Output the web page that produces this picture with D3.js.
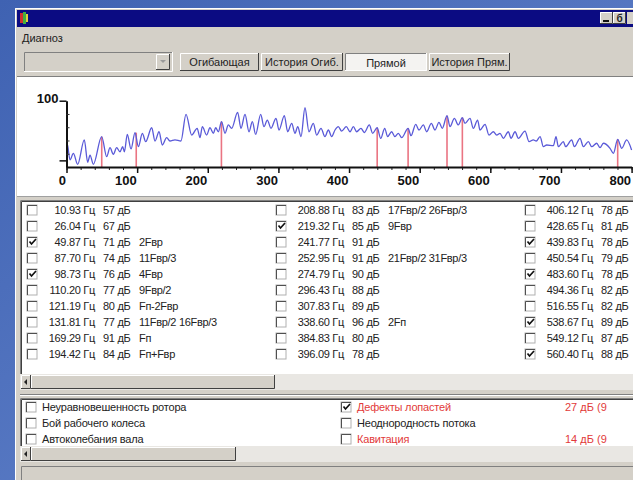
<!DOCTYPE html>
<html>
<head>
<meta charset="utf-8">
<script src="https://cdn.jsdelivr.net/npm/d3@7"></script>
<style>
  body { margin: 0; background: #4d6fbb; }
  svg { display: block; font-family: "Liberation Sans", Arial, sans-serif; }
</style>
</head>
<body>
<div id="sandbox"></div>
<script>
// Spectrum: frequency (Hz) / level (dB)
var specHz = [0, 1.7, 5, 9.7, 15.8, 25.2, 30, 33.3, 38, 49.8, 56.9, 61.6, 66.3, 71, 75.7, 79.5, 81.9, 86.1, 91.3, 97,
  101.7, 107.4, 112.1, 120.6, 125.3, 131, 135.7, 141.8, 146.5, 153.6, 162, 169.2, 177.2, 185, 189,
  192.3, 198.4, 203.1, 207.9, 211.2, 215, 219.5, 224.4, 229.1, 233.8, 242.3, 247, 252.7, 258.4, 263.1, 267.8,
  274.9, 279.6, 284.3, 289.5, 296.6, 300.8, 308.4, 313.1, 318.8, 323.5, 327.3, 332, 337.6, 343.3, 349.4, 354.1,
  360.3, 365.9, 370.7, 375.4,
  380.1, 384.8, 389.5, 396.1, 401.4, 406.1, 410.8, 416.9, 421.6, 428.7, 433.4, 439.8, 444.8, 450.5, 454.6, 460.3,
  465, 469.8, 474.5, 483.6, 487.7, 494.4, 499, 505.2, 509.9, 516.5, 521.7, 527.3, 532, 538.7, 542.9, 549.1, 554.7,
  560.4, 564.1, 571.2, 575.9, 582,
  585.4, 592.5, 598.1, 604.3, 609, 613.7, 618.4, 625.5, 629.3, 635, 639.7, 649.1, 654.8, 660.9, 665, 670.4, 675.1,
  679.8, 689.3, 693, 696.3, 703.4, 706.7, 715.2, 719, 727, 731.7, 738.8, 743.5, 750.6, 755.3, 760, 769.5, 774.2,
  780.3, 786, 793, 800];
var specDb = [68.6, 66, 55.3, 60.3, 52, 70.4, 53.5, 59, 52, 72.9, 57.8, 64.6, 59.6, 64.6, 61.5, 65.3, 61.5, 74.6, 63.6, 75.9,
  65.3, 75.4, 69.1, 79.6, 69.6, 76.6, 66.6, 72.1, 69.6, 70.4, 69.6, 89.7, 74.1, 79.2, 72.1,
  80.4, 74.1, 79.6, 75.4, 79.6, 76.6, 84.2, 75.4, 81.7, 79.2, 91.2, 79.2, 89.7, 76.6, 84.2, 74.6,
  89.7, 80.4, 85.4, 79.2, 86.7, 77.9, 88.7, 76.6, 82.9, 75.4, 80.4, 72.9, 94.7, 76.6, 82.9, 74.1,
  79.2, 72.9, 77.9, 72.9,
  77.9, 80.4, 77.1, 80.4, 76.6, 80.4, 76.6, 79.2, 76, 81.7, 75.4, 79.6, 71.6, 79.2, 72.9, 76.6,
  72.9, 75.4, 72.1, 79.2, 73.6, 82.2, 77.9, 81.7, 76.6, 82.9, 77.9, 83.7, 79.2, 88.7, 80.4, 86.7, 81.7,
  87.2, 82.9, 86.7, 79.2, 85.4,
  77.9, 82.2, 74.1, 76.6, 74.1, 75.4, 71.6, 76.6, 71.6, 76.6, 71.6, 77.1, 69.1, 70.4, 69.6, 72.9, 65.3,
  66.6, 66.1, 72.9, 65.3, 69.1, 65.3, 70.4, 65.3, 71.6, 65.3, 69.1, 65.3, 67.9, 64.6, 67.9, 64.1, 60.3,
  70.9, 64.1, 70.4, 62.8];

// Checked peaks shown as red markers
var markHz = [49.87, 98.73, 219.32, 439.83, 483.60, 538.67, 560.40, 780.3];
var markDb = [72.9, 75.9, 84.2, 79.6, 79.2, 88.7, 87.2, 70.9];

var xTicks = [0, 100, 200, 300, 400, 500, 600, 700, 800];
var yMinor = [60, 70, 80, 90];

// Peak table
var peakHz = [10.93, 26.04, 49.87, 87.70, 98.73, 110.20, 121.19, 131.81, 169.29, 194.42,
  208.88, 219.32, 241.77, 252.95, 274.79, 296.43, 307.83, 338.60, 384.83, 396.09,
  406.12, 428.65, 439.83, 450.54, 483.60, 494.36, 516.55, 538.67, 549.12, 560.40];
var peakDb = [57, 67, 71, 74, 76, 77, 80, 77, 91, 84,
  83, 85, 91, 91, 90, 88, 89, 96, 80, 78,
  78, 81, 78, 79, 78, 82, 82, 89, 87, 88];
var peakNote = ["", "", "2Fвр", "11Fвр/3", "4Fвр", "9Fвр/2", "Fп-2Fвр", "11Fвр/2 16Fвр/3", "Fп", "Fп+Fвр",
  "17Fвр/2 26Fвр/3", "9Fвр", "", "21Fвр/2 31Fвр/3", "", "", "", "2Fп", "", "",
  "", "", "", "", "", "", "", "", "", ""];
var peakOn = [0, 0, 1, 0, 1, 0, 0, 0, 0, 0,
  0, 1, 0, 0, 0, 0, 0, 0, 0, 0,
  0, 0, 1, 0, 1, 0, 0, 1, 0, 1];

// Diagnosis panel
var diagName = ["Неуравновешенность ротора", "Бой рабочего колеса", "Автоколебания вала",
  "Дефекты лопастей", "Неоднородность потока", "Кавитация"];
var diagOn = [0, 0, 0, 1, 0, 0];
var diagValue = ["", "", "", "27 дБ (9", "", "14 дБ (9"];

var tabs = ["Огибающая", "История Огиб.", "Прямой", "История Прям."];
var tabX = [180, 261, 345, 429];
var tabW = [79, 82, 82, 81];

var W = 633, H = 480, GRAY = '#d4d0c8';

var svg = d3.select('#sandbox').append('svg').attr('width', W).attr('height', H);

// desktop background
var grad = svg.append('defs').append('linearGradient').attr('id', 'desk')
  .attr('x1', 0).attr('y1', 0).attr('x2', 1).attr('y2', 1);
grad.append('stop').attr('offset', '0%').attr('stop-color', '#3f62b2');
grad.append('stop').attr('offset', '100%').attr('stop-color', '#6a8ad0');
svg.append('rect').attr('width', W).attr('height', H).attr('fill', 'url(#desk)');

// 3D border helper
function bevel(g, x, y, w, h, sunk) {
  var lt = sunk ? '#808080' : '#ffffff', rb = sunk ? '#ffffff' : '#404040';
  g.append('path').attr('d', 'M' + (x + 0.5) + ',' + (y + h) + 'V' + (y + 0.5) + 'H' + (x + w))
    .attr('stroke', lt).attr('fill', 'none');
  g.append('path').attr('d', 'M' + (x + w - 0.5) + ',' + y + 'V' + (y + h - 0.5) + 'H' + x)
    .attr('stroke', rb).attr('fill', 'none');
}

function checkbox(g, x, y, on) {
  g.append('rect').attr('x', x).attr('y', y).attr('width', 10).attr('height', 10)
    .attr('fill', '#fff').attr('stroke', '#b0b0b0');
  g.append('path').attr('d', 'M' + (x + 0.5) + ',' + (y + 10) + 'V' + (y + 0.5) + 'H' + (x + 10))
    .attr('stroke', '#505050').attr('fill', 'none');
  if (on) {
    g.append('path').attr('d', 'M' + (x + 2.5) + ',' + (y + 4.5) + 'l2,2.5l4.5,-5')
      .attr('stroke', '#111').attr('stroke-width', 1.7).attr('fill', 'none');
  }
}

function text(g, x, y, s, opt) {
  opt = opt || {};
  return g.append('text').attr('x', x).attr('y', y).text(s)
    .attr('font-size', opt.size || 11)
    .attr('fill', opt.fill || '#222')
    .attr('text-anchor', opt.anchor || 'start')
    .attr('font-weight', opt.bold ? 'bold' : 'normal');
}

function scrollbar(g, y, thumbEnd) {
  g.append('rect').attr('x', 20).attr('y', y).attr('width', W - 20).attr('height', 16).attr('fill', '#e9e7e3');
  g.append('rect').attr('x', 21).attr('y', y + 1).attr('width', 10).attr('height', 14).attr('fill', GRAY);
  bevel(g, 21, y + 1, 10, 14, false);
  g.append('path').attr('d', 'M24,' + (y + 8) + 'l3,-3v6z').attr('fill', '#222');
  g.append('rect').attr('x', 31).attr('y', y + 1).attr('width', thumbEnd - 31).attr('height', 14).attr('fill', GRAY);
  bevel(g, 31, y + 1, thumbEnd - 31, 14, false);
}

// window body
var win = svg.append('g');
win.append('rect').attr('x', 15).attr('y', 8).attr('width', W - 15).attr('height', H - 8).attr('fill', GRAY);
bevel(win, 15, 8, W - 14, H - 7, false);

// title bar
win.append('rect').attr('x', 17).attr('y', 10).attr('width', W - 17).attr('height', 17).attr('fill', '#0b0b82');
win.append('rect').attr('x', 20).attr('y', 13).attr('width', 3).attr('height', 10).attr('fill', '#d03030');
win.append('rect').attr('x', 23).attr('y', 12).attr('width', 3).attr('height', 12).attr('fill', '#40b040');
win.append('rect').attr('x', 26).attr('y', 14).attr('width', 2).attr('height', 8).attr('fill', '#e0d040');
[600, 613].forEach(function(bx, i) {
  win.append('rect').attr('x', bx).attr('y', 12).attr('width', 13).attr('height', 12).attr('fill', GRAY);
  bevel(win, bx, 12, 13, 12, false);
});
// minimize and restore glyphs
win.append('rect').attr('x', 603).attr('y', 20).attr('width', 6).attr('height', 2).attr('fill', '#111');
text(win, 619.5, 22, 'б', { anchor: 'middle', size: 10, bold: true });
win.append('rect').attr('x', 627).attr('y', 12).attr('width', 6).attr('height', 12).attr('fill', GRAY);

// menu
text(win, 22, 42, 'Диагноз', { size: 11 });

// combo box
win.append('rect').attr('x', 24).attr('y', 52).attr('width', 149).attr('height', 20).attr('fill', GRAY);
bevel(win, 24, 52, 149, 20, true);
win.append('rect').attr('x', 156).attr('y', 54).attr('width', 14).attr('height', 16).attr('fill', GRAY);
bevel(win, 156, 54, 14, 16, false);
win.append('path').attr('d', 'M160,60h6l-3,3z').attr('fill', '#9a9a9a');

// view buttons
tabs.forEach(function(t, i) {
  var pressed = i === 2;
  win.append('rect').attr('x', tabX[i]).attr('y', 53).attr('width', tabW[i]).attr('height', 18)
    .attr('fill', pressed ? '#f4f3f1' : GRAY);
  bevel(win, tabX[i], 53, tabW[i], 18, pressed);
  text(win, tabX[i] + tabW[i] / 2, pressed ? 67 : 66, t, { anchor: 'middle', size: 11 });
});

// chart area
win.append('rect').attr('x', 17).attr('y', 77).attr('width', W - 17).attr('height', 119).attr('fill', '#fff');
win.append('line').attr('x1', 17).attr('x2', W).attr('y1', 76.5).attr('y2', 76.5).attr('stroke', '#808080');

var x = d3.scaleLinear().domain([0, 800]).range([66.5, 631.6]);
var y = d3.scaleLinear().domain([50, 100]).range([167, 100.7]);

var chart = svg.append('g');

// red markers for checked peaks
chart.selectAll('line.mark').data(markHz).enter().append('line')
  .attr('class', 'mark')
  .attr('x1', function(d) { return x(d); }).attr('x2', function(d) { return x(d); })
  .attr('y1', y(50)).attr('y2', function(d, i) { return y(markDb[i]); })
  .attr('stroke', '#ea7482').attr('stroke-width', 1.6);

// spectrum line
var pts = specHz.map(function(f, i) { return [f, specDb[i]]; });
chart.append('path').datum(pts)
  .attr('d', d3.line().x(function(d) { return x(d[0]); }).y(function(d) { return y(d[1]); }).curve(d3.curveMonotoneX))
  .attr('fill', 'none').attr('stroke', '#5a5ad8').attr('stroke-width', 1.3);

// x axis: minor ticks every 20 Hz, major every 100 Hz
var xMinorTicks = d3.range(0, 801, 20);
chart.append('g').attr('transform', 'translate(0,167)')
  .call(d3.axisBottom(x).tickValues(xMinorTicks).tickSize(3).tickSizeOuter(0).tickFormat(''))
  .call(function(g) { g.select('.domain').remove(); g.selectAll('line').attr('stroke', '#222'); });
var xAxis = chart.append('g').attr('transform', 'translate(0,167)')
  .call(d3.axisBottom(x).tickValues(xTicks).tickSize(6).tickSizeOuter(0).tickFormat(d3.format('d')));
xAxis.select('.domain').attr('stroke', '#111').attr('stroke-width', 2);
xAxis.selectAll('line').attr('stroke', '#111').attr('stroke-width', 1.5);
xAxis.selectAll('text').attr('text-anchor', 'end').attr('x', -1)
  .attr('font-size', 13).attr('font-weight', 'bold').attr('fill', '#111')
  .attr('font-family', '"Liberation Sans", Arial, sans-serif');

// y axis
var yAxis = chart.append('g').attr('transform', 'translate(66.5,0)')
  .call(d3.axisLeft(y).tickValues([55, 100]).tickSize(7).tickSizeOuter(0)
    .tickFormat(function(d) { return d === 100 ? '100' : ''; }));
yAxis.select('.domain').attr('stroke', '#111').attr('stroke-width', 2);
yAxis.selectAll('line').attr('stroke', '#111').attr('stroke-width', 1.5);
yAxis.selectAll('text').attr('font-size', 13).attr('font-weight', 'bold').attr('fill', '#111')
  .attr('x', -8).attr('dy', '0.1em')
  .attr('font-family', '"Liberation Sans", Arial, sans-serif');
chart.append('g').attr('transform', 'translate(66.5,0)')
  .call(d3.axisRight(y).tickValues(yMinor).tickSize(3).tickFormat(''))
  .call(function(g) { g.select('.domain').remove(); g.selectAll('line').attr('stroke', '#333'); });

// separator
win.append('rect').attr('x', 17).attr('y', 196).attr('width', W - 17).attr('height', 4).attr('fill', GRAY);
win.append('line').attr('x1', 17).attr('x2', W).attr('y1', 196.5).attr('y2', 196.5).attr('stroke', '#a0a0a0');

// peak list
var list = svg.append('g');
list.append('rect').attr('x', 20).attr('y', 200).attr('width', W - 20).attr('height', 174).attr('fill', '#fff');
bevel(list, 20, 200, W - 19, 175, true);
list.append('path').attr('d', 'M21.5,374V201.5H' + W).attr('stroke', '#404040').attr('fill', 'none');

var colX = [27, 276, 525];
var fmt = d3.format('.2f');
peakHz.forEach(function(f, i) {
  var cx = colX[Math.floor(i / 10)], ry = 210 + (i % 10) * 16;
  checkbox(list, cx, ry - 5, peakOn[i]);
  text(list, cx + 68, ry + 4, fmt(f) + ' Гц', { anchor: 'end' }).attr('letter-spacing', -0.3);
  text(list, cx + 76, ry + 4, peakDb[i] + ' дБ').attr('letter-spacing', -0.3);
  if (peakNote[i]) text(list, cx + 112, ry + 4, peakNote[i]).attr('letter-spacing', -0.3);
});
scrollbar(list, 374, 275);

// diagnosis panel
var diag = svg.append('g');
diag.append('line').attr('x1', 20).attr('x2', W).attr('y1', 394.5).attr('y2', 394.5).attr('stroke', '#808080');
diag.append('line').attr('x1', 20).attr('x2', W).attr('y1', 395.5).attr('y2', 395.5).attr('stroke', '#fff');
diag.append('rect').attr('x', 20).attr('y', 398).attr('width', W - 20).attr('height', 48).attr('fill', '#fff');
bevel(diag, 20, 398, W - 19, 49, true);
diag.append('path').attr('d', 'M21.5,446V399.5H' + W).attr('stroke', '#404040').attr('fill', 'none');
diagName.forEach(function(n, i) {
  var col = Math.floor(i / 3), ry = 407 + (i % 3) * 16;
  var cx = col === 0 ? 26 : 341;
  var red = diagValue[i] !== '';
  checkbox(diag, cx, ry - 5, diagOn[i]);
  text(diag, cx + 16, ry + 4, n, { fill: red ? '#e23a3a' : '#222' }).attr('letter-spacing', -0.2);
  if (red) text(diag, 565, ry + 4, diagValue[i], { fill: '#e23a3a' });
});
scrollbar(diag, 446, 236);

// status bar
svg.append('rect').attr('x', 21).attr('y', 466).attr('width', W - 21).attr('height', 14).attr('fill', GRAY);
bevel(svg, 21, 466, W - 20, 15, true);
</script>
</body>
</html>
